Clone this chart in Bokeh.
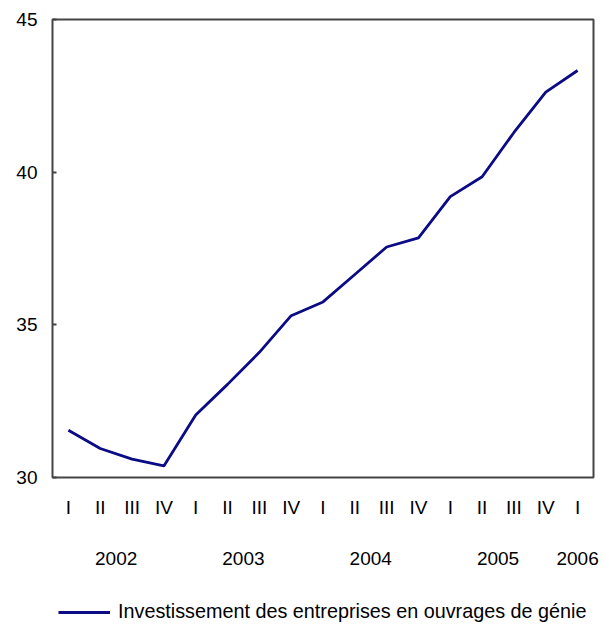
from bokeh.plotting import figure
from bokeh.layouts import column
from bokeh.models import (FixedTicker, LinearAxis, Range1d, Legend, LegendItem,
                          ColumnDataSource)
from bokeh.embed import file_html
from bokeh.resources import INLINE

# ---- data ----
quarters = ["I", "II", "III", "IV", "I", "II", "III", "IV", "I", "II", "III", "IV",
            "I", "II", "III", "IV", "I"]
years = ["2002", "2003", "2004", "2005", "2006"]
year_positions = [1.5, 5.5, 9.5, 13.5, 16]
values = [31.55, 30.95, 30.6, 30.38, 32.05, 33.05, 34.1, 35.3, 35.75, 36.65,
          37.55, 37.85, 39.2, 39.85, 41.3, 42.62, 43.33]
y_ticks = [30, 35, 40, 45]
series_name = "Investissement des entreprises en ouvrages de génie"

FONT = "Liberation Sans"
FS = "19px"
LINE_COLOR = "#0b0b85"
FRAME_COLOR = "#444444"
LINE_W = 2.8

x = list(range(len(values)))
src = ColumnDataSource(dict(x=x, y=values))

p = figure(width=601, height=588, output_backend="svg", toolbar_location=None,
           x_range=Range1d(-0.5, len(values) - 0.5), y_range=Range1d(30, 45),
           x_axis_type=None, y_axis_type=None,
           min_border_left=52, min_border_right=8, min_border_top=19,
           min_border_bottom=111)
p.grid.visible = False
p.outline_line_color = FRAME_COLOR
p.outline_line_width = 2
p.background_fill_color = "white"
p.border_fill_color = "white"

r = p.line("x", "y", source=src, line_color=LINE_COLOR, line_width=LINE_W)

# y axis
yax = LinearAxis(ticker=FixedTicker(ticks=y_ticks))
yax.axis_line_color = None
yax.major_tick_in = 4
yax.major_tick_out = 0
yax.major_tick_line_color = FRAME_COLOR
yax.major_tick_line_width = 2
yax.minor_tick_line_color = None
yax.major_label_standoff = 15
yax.major_label_text_font = FONT
yax.major_label_text_font_size = FS
yax.major_label_text_color = "black"
p.add_layout(yax, "left")

# x axis: quarters
qax = LinearAxis(ticker=FixedTicker(ticks=x))
qax.major_label_overrides = {i: q for i, q in zip(x, quarters)}
qax.axis_line_color = None
qax.major_tick_line_color = None
qax.minor_tick_line_color = None
qax.major_tick_in = 0
qax.major_tick_out = 0
qax.major_label_standoff = 19
qax.major_label_text_font = FONT
qax.major_label_text_font_size = FS
qax.major_label_text_color = "black"
p.add_layout(qax, "below")

# x axis: years
yrax = LinearAxis(ticker=FixedTicker(ticks=year_positions))
yrax.major_label_overrides = {pos: yr for pos, yr in zip(year_positions, years)}
yrax.axis_line_color = None
yrax.major_tick_line_color = None
yrax.minor_tick_line_color = None
yrax.major_tick_in = 0
yrax.major_tick_out = 0
yrax.major_label_standoff = 31
yrax.major_label_text_font = FONT
yrax.major_label_text_font_size = FS
yrax.major_label_text_color = "black"
p.add_layout(yrax, "below")

# legend strip (separate figure below the chart); its line lies outside its view
lg = figure(width=601, height=37, output_backend="svg", toolbar_location=None,
            x_axis_type=None, y_axis_type=None,
            x_range=Range1d(0, 1), y_range=Range1d(0, 1),
            min_border_left=0, min_border_right=0, min_border_top=0,
            min_border_bottom=0)
lg.grid.visible = False
lg.outline_line_color = None
lg.border_fill_color = "white"
lr = lg.line("x", "y", source=src, line_color=LINE_COLOR, line_width=LINE_W)

legend = Legend(items=[LegendItem(label=series_name, renderers=[lr])],
                location=(6, 2), orientation="horizontal",
                background_fill_alpha=0, border_line_color=None,
                glyph_width=52, glyph_height=20, label_standoff=8,
                label_text_font=FONT, label_text_font_size="19.8px",
                label_text_color="black", padding=0, margin=0, spacing=0)
lg.add_layout(legend, "center")

layout = column(p, lg, spacing=0)
open("out.html", "w").write(file_html(layout, INLINE))
